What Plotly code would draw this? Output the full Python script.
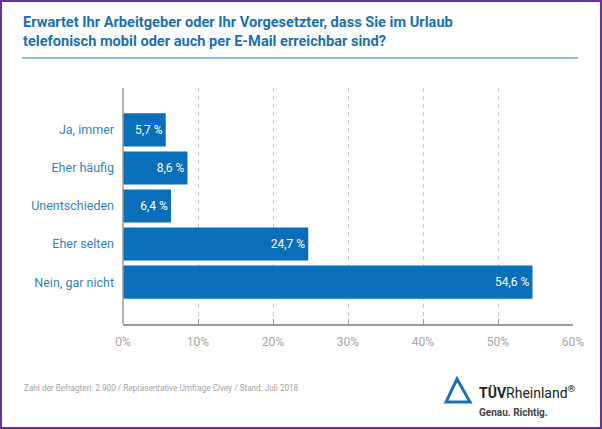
import plotly.graph_objects as go

# survey answers, top to bottom
categories = ["Ja, immer", "Eher häufig", "Unentschieden", "Eher selten", "Nein, gar nicht"]
values = [5.7, 8.6, 6.4, 24.7, 54.6]
tick_values = [0, 10, 20, 30, 40, 50, 60]
tick_labels = [f"{v}%" for v in tick_values]

title_text = ("Erwartet Ihr Arbeitgeber oder Ihr Vorgesetzter, dass Sie im Urlaub<br>"
              "telefonisch mobil oder auch per E-Mail erreichbar sind?")
source_text = "Zahl der Befragten: 2.900 / Repräsentative Umfrage Civey / Stand: Juli 2018"

W, H = 602, 429
L, R, T, B = 123, 29, 88, 105

BAR_BLUE = "#0a6fba"
TITLE_BLUE = "#1b70b3"
LABEL_BLUE = "#3582c3"
GREY = "#a4a4a4"


def px(x):
    # pixel x -> paper x
    return (x - L) / (W - L - R)


def py(y):
    # pixel y -> paper y
    return (H - B - y) / (H - T - B)


bar_text = [f"{v:.1f} %".replace(".", ",") for v in values]

fig = go.Figure()
fig.add_trace(
    go.Bar(
        x=values,
        y=categories,
        orientation="h",
        marker=dict(color=BAR_BLUE, line=dict(width=0)),
        width=0.87,
        text=bar_text,
        textposition="inside",
        insidetextanchor="end",
        textfont=dict(color="white", size=12, family="Roboto"),
        hoverinfo="skip",
    )
)

shapes = [
    # rule under the title
    dict(type="line", xref="paper", yref="paper", x0=px(22), x1=px(578), y0=py(58), y1=py(58),
         line=dict(color="#8db7d9", width=2)),
    # left axis line
    dict(type="line", xref="paper", yref="paper", x0=0, x1=0, y0=0, y1=1,
         line=dict(color="#9a9a9a", width=1.5)),
    # logo triangle
    dict(type="path", xref="paper", yref="paper",
         path=f"M {px(457)},{py(379)} L {px(446)},{py(402)} L {px(470)},{py(402)} Z",
         line=dict(color="#1f6fb5", width=3), fillcolor="rgba(0,0,0,0)"),
    # outer frame
    dict(type="rect", xref="paper", yref="paper", x0=px(1), x1=px(601), y0=py(1), y1=py(428),
         line=dict(color="#6b2fa0", width=2), layer="above"),
]

annotations = [
    dict(text=f"<b>{title_text}</b>", xref="paper", yref="paper", x=px(21), y=py(11),
         xanchor="left", yanchor="top", align="left", showarrow=False,
         font=dict(family="Roboto", size=14.6, color=TITLE_BLUE)),
    dict(text=source_text, xref="paper", yref="paper", x=px(22), y=py(388),
         xanchor="left", yanchor="middle", showarrow=False,
         font=dict(family="Roboto", size=8.2, color=GREY)),
    dict(text="<b>TÜV</b>Rheinland<sup>®</sup>", xref="paper", yref="paper", x=px(477), y=py(392),
         xanchor="left", yanchor="middle", showarrow=False,
         font=dict(family="Roboto", size=14, color="#222222")),
    dict(text="<b>Genau. Richtig.</b>", xref="paper", yref="paper", x=px(477), y=py(412),
         xanchor="left", yanchor="middle", showarrow=False,
         font=dict(family="Roboto", size=10, color="#444444")),
]

fig.update_layout(
    width=W,
    height=H,
    margin=dict(l=L, r=R, t=T, b=B, pad=0),
    paper_bgcolor="white",
    plot_bgcolor="white",
    showlegend=False,
    bargap=0.13,
    shapes=shapes,
    annotations=annotations,
    xaxis=dict(
        range=[0, 60],
        tickmode="array",
        tickvals=tick_values,
        ticktext=tick_labels,
        showgrid=True,
        gridcolor="#c8c8c8",
        griddash="4px,4px",
        gridwidth=1,
        zeroline=False,
        showline=True,
        linecolor="#9a9a9a",
        linewidth=1.5,
        ticks="inside",
        ticklen=5,
        tickcolor="#9a9a9a",
        ticklabelstandoff=6,
        tickfont=dict(family="Roboto", size=12, color=GREY),
        fixedrange=True,
    ),
    yaxis=dict(
        autorange=False,
        range=[5.1, -1.1],
        type="category",
        categoryorder="array",
        categoryarray=categories,
        showgrid=False,
        zeroline=False,
        showline=False,
        ticks="",
        ticklabelstandoff=8,
        tickfont=dict(family="Roboto", size=12.5, color=LABEL_BLUE),
        fixedrange=True,
    ),
)

# drop the default page margin so the figure sits at the window corner
fig.write_html(
    "out.html",
    config={"displayModeBar": False},
    post_script="document.body.style.margin='0';",
)
